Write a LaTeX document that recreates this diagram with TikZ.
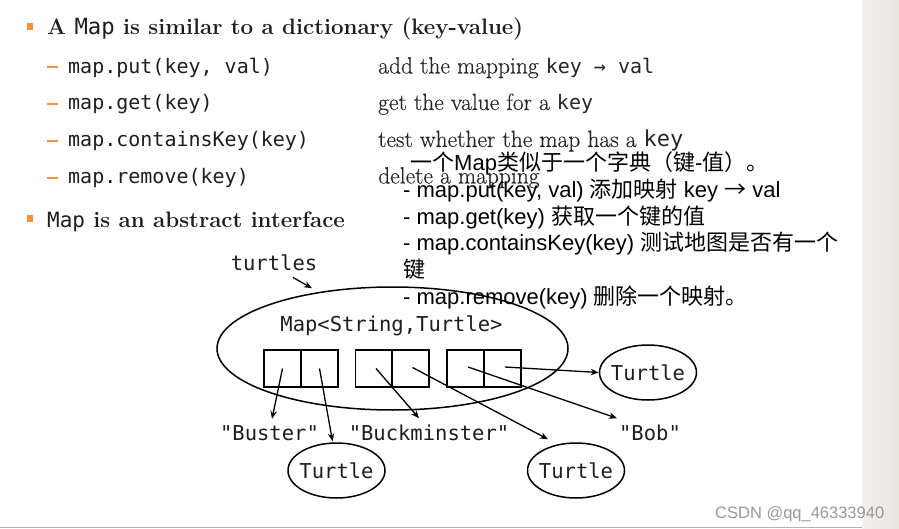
\documentclass[tikz,border=0pt]{standalone}
\usepackage{fontspec}
\setmonofont{DejaVu Sans Mono}
\newfontfamily\arialf{Liberation Sans}
\newfontfamily\cjk{Noto Sans CJK SC}
\newfontfamily\descf[FakeBold=0.3]{Latin Modern Roman}
\usetikzlibrary{arrows.meta,calc,shapes.geometric}
\definecolor{bulletor}{RGB}{245,145,62}
\definecolor{txt}{RGB}{30,30,30}
\definecolor{sidel}{RGB}{242,240,238}
\definecolor{sider}{RGB}{232,229,225}
\tikzset{
  ttl/.style={anchor=base west,inner sep=0,text=txt,font=\fontsize{22.3}{26}\selectfont\bfseries},
  codet/.style={anchor=base west,inner sep=0,text=txt,font=\ttfamily\fontsize{20}{24}\selectfont},
  desc/.style={anchor=base west,inner sep=0,text=black!85,font=\descf\fontsize{23.5}{27}\selectfont},
  zh/.style={anchor=base west,inner sep=0,text=black,font=\arialf\fontsize{22}{26}\selectfont},
  dg/.style={font=\ttfamily\fontsize{20.5}{24}\selectfont,text=txt},
  lbl/.style={dg,anchor=base,inner sep=4pt},
  bigell/.style={ellipse,draw,line width=1.5pt,minimum width=351pt,minimum height=123pt,inner sep=0},
  cell/.style={rectangle,draw,line width=1.5pt,minimum width=37pt,minimum height=37pt,inner sep=0},
  tell/.style={dg,ellipse,draw,line width=1.5pt,inner xsep=-3pt,inner ysep=0pt,minimum width=97pt,minimum height=55pt},
  arr/.style={line width=1.3pt,-{Stealth[length=8pt,width=6.5pt]}},
  dashl/.style={draw=bulletor,line width=1.8pt},
  bsq/.style={fill=bulletor}
}
\newcommand{\kmono}[1]{{\ttfamily\fontsize{20}{24}\selectfont #1}}
\begin{document}
\begin{tikzpicture}[x=1pt,y=-1pt]
\useasboundingbox (0,0) rectangle (899,529);
\fill[white] (0,0) rectangle (899,529);
% bullets
\fill[bsq] (27,23) rectangle (33,30);
\fill[bsq] (27,215) rectangle (33,222);
\node[ttl] (title) at (47,35) {A {\mdseries\ttfamily Map} is similar to a dictionary (key-value)};
\node[ttl] (title2) at (47,228) {{\mdseries\ttfamily\fontsize{21}{25}\selectfont Map} is an abstract interface};
% dashes
\coordinate (d1a) at (47,67); \coordinate (d1b) at (58,67);
\coordinate (d2a) at (47,104); \coordinate (d2b) at (58,104);
\coordinate (d3a) at (47,141); \coordinate (d3b) at (58,141);
\coordinate (d4a) at (47,178); \coordinate (d4b) at (58,178);
\draw[dashl] (d1a) -- (d1b);
\draw[dashl] (d2a) -- (d2b);
\draw[dashl] (d3a) -- (d3b);
\draw[dashl] (d4a) -- (d4b);
\node[codet] (m1) at (68,73.5) {map.put(key, val)};
\node[codet] (m2) at (68,110) {map.get(key)};
\node[codet] (m3) at (68,147) {map.containsKey(key)};
\node[codet] (m4) at (68,183.5) {map.remove(key)};
\node[desc] (e1) at (378,73.5) {add the mapping \kmono{key \textrightarrow{} val}};
\node[desc] (e2) at (378,110) {get the value for a \kmono{key}};
\node[desc] (e3) at (378,147) {test whether the map has a {\ttfamily\fontsize{22}{26}\selectfont key}};
\node[desc] (e4) at (378,183.5) {delete a mapping};
% chinese overlay
\node[zh] (z1) at (410,171) {{\cjk 一个}Map{\cjk 类似于一个字典（键}-{\cjk 值）。}};
\node[zh] (z2) at (403,198) {- map.put(key, val) {\cjk 添加映射} key {\cjk →} val};
\node[zh] (z3) at (403,224.5) {- map.get(key) {\cjk 获取一个键的值}};
\node[zh] (z4) at (403,251) {- map.containsKey(key) {\cjk 测试地图是否有一个}};
\node[zh] (z5) at (403,277.5) {{\cjk 键}};
\node[zh] (z6) at (403,304) {- map.remove(key) {\cjk 删除一个映射。}};
% diagram
\node[dg,anchor=base,inner sep=3pt] (turtles) at (274,270) {turtles};
\node[bigell] (map) at (392.5,348.5) {};
\node[dg,anchor=base,inner sep=0] (mapt) at (391.5,331) {Map<String,Turtle>};
\node[cell] (c1a) at (282.5,368.5) {};
\node[cell] (c1b) at (319.5,368.5) {};
\node[cell] (c2a) at (374,368.5) {};
\node[cell] (c2b) at (410.5,368.5) {};
\node[cell] (c3a) at (465.5,368.5) {};
\node[cell] (c3b) at (502.5,368.5) {};
\node[lbl] (buster) at (269.5,440) {"Buster"};
\node[lbl] (buck) at (429,440) {"Buckminster"};
\node[lbl] (bob) at (650,440) {"Bob"};
\node[tell] (t1) at (336.5,470.5) {Turtle};
\node[tell] (t2) at (576,470.5) {Turtle};
\node[tell] (t3) at (648,372.5) {Turtle};
\draw[arr] ($(turtles.south)+(19,4)$) -- ($(map.north)+(-80.5,2)$);
\draw[arr] (c1a.center) -- ($(buster.north)+(2.5,-2)$);
\draw[arr] (c1b.center) -- ($(t1.north)+(-4,-1)$);
\draw[arr] ($(c2a.center)+(2,0)$) -- ($(buck.north)+(-10,-2)$);
\draw[arr] ($(c2b.center)+(2,-1)$) -- ($(t2.north)+(-28,-3)$);
\draw[arr] ($(c3a.center)+(2.5,-1.5)$) -- ($(bob.north)+(-33,-2)$);
\draw[arr] ($(c3b.center)+(2.5,-1.5)$) -- (t3.west);
% page chrome
\draw[line width=1.5pt,gray!60] (0,527.5) -- (862,527.5);
\shade[left color=sidel,right color=sider] (862,0) rectangle (899,529);
\node[anchor=base west,inner sep=0,text=black!40,font=\arialf\fontsize{16.5}{20}\selectfont] (wm) at (715,518) {CSDN @qq\_46333940};
\end{tikzpicture}
\end{document}
